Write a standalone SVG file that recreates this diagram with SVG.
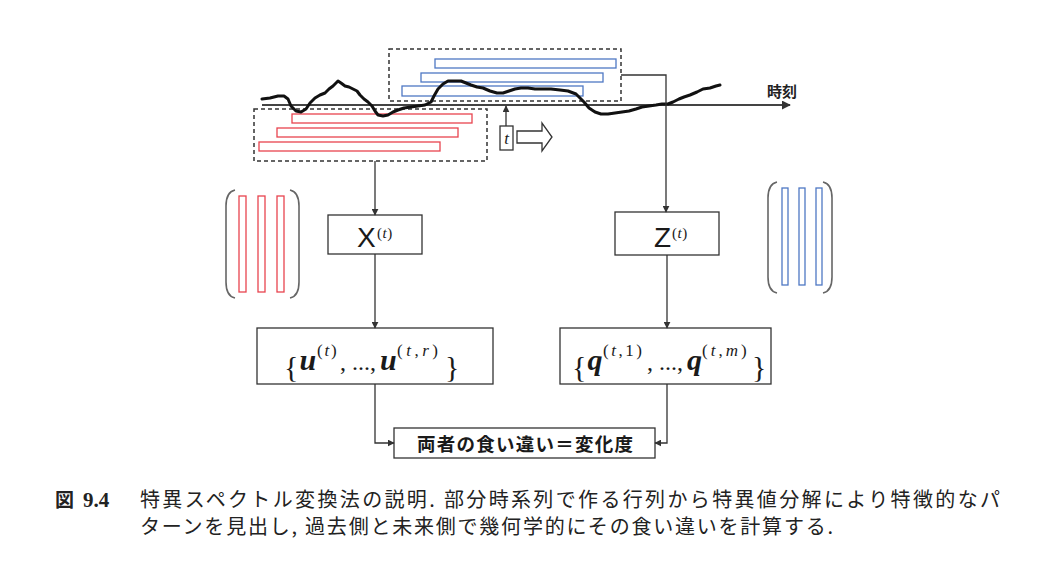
<svg xmlns="http://www.w3.org/2000/svg" width="1044" height="573" viewBox="0 0 1044 573">
<style>
.box{fill:#fff;stroke:#333;stroke-width:1.3}
.dash{fill:none;stroke:#333;stroke-width:1.5;stroke-dasharray:4 3}
.red{fill:none;stroke:#e8444f;stroke-width:1.3}
.blue{fill:none;stroke:#4f78c4;stroke-width:1.3}
.br{fill:none;stroke:#666;stroke-width:1.6}
.conn{fill:none;stroke:#333;stroke-width:1.3}
.math{font-family:"Liberation Serif",serif;fill:#1a1a1a}
.bi{font-weight:bold;font-style:italic;font-size:30px}
.sup{font-size:17px}
.it{font-style:italic}
.cap{font-family:"Noto Sans CJK JP",sans-serif;font-size:20px;fill:#222}
</style>
<defs>
<marker id="ah" viewBox="0 0 10 10" refX="9" refY="5" markerWidth="7" markerHeight="7" markerUnits="userSpaceOnUse" orient="auto">
<path d="M0,0 L10,5 L0,10 z" fill="#333"/>
</marker>
<marker id="ah2" viewBox="0 0 10 10" refX="9" refY="5" markerWidth="9" markerHeight="9" markerUnits="userSpaceOnUse" orient="auto">
<path d="M0,0 L10,5 L0,10 z" fill="#333"/>
</marker>
</defs>
<rect width="1044" height="573" fill="#fff"/>

<g id="future-window">
<rect class="dash" x="389" y="49" width="232" height="52"/>
<rect class="blue" x="435" y="59" width="181" height="9"/>
<rect class="blue" x="421" y="73" width="182" height="9"/>
<rect class="blue" x="402" y="86" width="181" height="10"/>
</g>

<g id="past-window">
<rect class="dash" x="254" y="109" width="233" height="52"/>
<rect class="red" x="292" y="114" width="180" height="9"/>
<rect class="red" x="277" y="128" width="181" height="9"/>
<rect class="red" x="259" y="142" width="181" height="9"/>
</g>

<g id="axis">
<line x1="262" y1="105" x2="790" y2="105" stroke="#444" stroke-width="2" marker-end="url(#ah2)"/>
<text x="767" y="97" font-family="Noto Sans CJK JP, sans-serif" font-size="15" font-weight="bold" fill="#222">時刻</text>
</g>

<g id="series">
<polyline fill="none" stroke="#111" stroke-width="3" stroke-linejoin="round" stroke-linecap="round" points="262,99 270,98 278,96 284,96 288,99 291,106 296,111 301,112 306,109 310,103 315,98 320,95 325,93 329,89 333,86 338,81 341,83 345,86 349,87 353,89 357,91 360,95 364,99 368,102 372,106 375,111 378,115 383,116 388,115 393,112 398,110 404,108 411,107 418,106 425,105 431,102 434,96 438,89 443,84 448,81 455,81 461,81 466,83 471,85 477,87 483,88 490,91 497,93 503,93 509,91 515,89 521,88 528,88 535,89 543,89 551,89 560,90 568,91 576,94 580,98 584,102 589,108 595,112 601,114 608,114 615,113 622,112 629,111 636,109 642,107 649,106 656,105 662,104 668,104 673,102 679,99 684,97 690,95 697,92 703,89 710,88 716,86 720,85"/>
</g>

<g id="time-marker">
<rect class="box" x="500" y="126" width="13" height="24"/>
<text class="math" x="506.5" y="144" font-size="17" font-style="italic" text-anchor="middle">t</text>
<path d="M517,131 L542,131 L542,123 L552,137 L542,151 L542,143 L517,143 Z" fill="#fff" stroke="#333" stroke-width="1.3"/>
</g>

<g id="matrix-past">
<path class="br" d="M235,190 Q226,192 226,206 L226,282 Q226,296 235,298"/>
<path class="br" d="M290,190 Q299,192 299,206 L299,282 Q299,296 290,298"/>
<rect class="red" x="239" y="196" width="7" height="96"/>
<rect class="red" x="258" y="196" width="7" height="96"/>
<rect class="red" x="277" y="196" width="7" height="96"/>
</g>

<g id="matrix-future">
<path class="br" d="M777,182 Q768,184 768,198 L768,277 Q768,291 777,293"/>
<path class="br" d="M823,182 Q832,184 832,198 L832,277 Q832,291 823,293"/>
<rect class="blue" x="782" y="188" width="6" height="97"/>
<rect class="blue" x="799" y="188" width="6" height="97"/>
<rect class="blue" x="816" y="188" width="6" height="97"/>
</g>

<g id="X">
<rect class="box" x="328" y="215" width="94" height="39"/>
<text x="357" y="247" font-family="Liberation Sans, sans-serif" font-size="28" fill="#1a1a1a">X<tspan x="377" y="238" font-family="Liberation Serif, serif" font-size="15" letter-spacing="0.5">(<tspan class="it">t</tspan>)</tspan></text>
</g>

<g id="Z">
<rect class="box" x="615" y="212" width="104" height="43"/>
<text x="654" y="247" font-family="Liberation Sans, sans-serif" font-size="28" fill="#1a1a1a">Z<tspan x="672" y="238" font-family="Liberation Serif, serif" font-size="15" letter-spacing="0.5">(<tspan class="it">t</tspan>)</tspan></text>
</g>

<g id="U">
<rect class="box" x="257" y="328" width="236" height="56"/>
<text class="math"><tspan x="284" y="377" font-size="30">{</tspan><tspan class="bi" x="299.5" y="370">u</tspan><tspan class="sup" x="317" y="356" letter-spacing="1.8">(<tspan class="it">t</tspan>)</tspan><tspan x="340" y="370" font-size="24">, ...,</tspan><tspan class="bi" x="380" y="370">u</tspan><tspan class="sup" x="397" y="356" letter-spacing="3.5">(<tspan class="it">t</tspan>,<tspan class="it">r</tspan>)</tspan><tspan x="445" y="377" font-size="30">}</tspan></text>
</g>

<g id="Q">
<rect class="box" x="560" y="328" width="211" height="56"/>
<text class="math"><tspan x="572" y="377" font-size="30">{</tspan><tspan class="bi" x="587.5" y="370">q</tspan><tspan class="sup" x="603" y="356" letter-spacing="2.5">(<tspan class="it">t</tspan>,1)</tspan><tspan x="647" y="370" font-size="24">, ...,</tspan><tspan class="bi" x="687" y="370">q</tspan><tspan class="sup" x="702" y="356" letter-spacing="3">(<tspan class="it">t</tspan>,<tspan class="it">m</tspan>)</tspan><tspan x="752" y="377" font-size="30">}</tspan></text>
</g>

<g id="result">
<rect class="box" x="394" y="428" width="261" height="30"/>
<text x="525" y="451" font-family="Noto Sans CJK JP, sans-serif" font-size="18.5" font-weight="bold" fill="#1a1a1a" text-anchor="middle" textLength="216">両者の食い違い＝変化度</text>
</g>

<g id="connectors">
<line class="conn" x1="375" y1="161" x2="375" y2="215" marker-end="url(#ah)"/>
<polyline class="conn" points="621,75 666,75 666,212" marker-end="url(#ah)"/>
<line class="conn" x1="375" y1="254" x2="375" y2="328" marker-end="url(#ah)"/>
<line class="conn" x1="667" y1="255" x2="667" y2="328" marker-end="url(#ah)"/>
<polyline class="conn" points="375,384 375,443 394,443" marker-end="url(#ah)"/>
<polyline class="conn" points="667,384 667,443 655,443" marker-end="url(#ah)"/>
<line class="conn" x1="506" y1="126" x2="506" y2="106" marker-end="url(#ah)"/>
</g>

<g id="caption">
<text x="55" y="507" font-family="Noto Sans CJK JP, sans-serif" font-size="19" font-weight="bold" fill="#222">図</text>
<text x="83" y="507" font-family="Liberation Serif, serif" font-size="21" font-weight="bold" fill="#222">9.4</text>
<text class="cap" x="140" y="507" textLength="860" lengthAdjust="spacing">特異スペクトル変換法の説明. 部分時系列で作る行列から特異値分解により特徴的なパ</text>
<text class="cap" x="140" y="534" textLength="693" lengthAdjust="spacing">ターンを見出し, 過去側と未来側で幾何学的にその食い違いを計算する.</text>
</g>
</svg>
